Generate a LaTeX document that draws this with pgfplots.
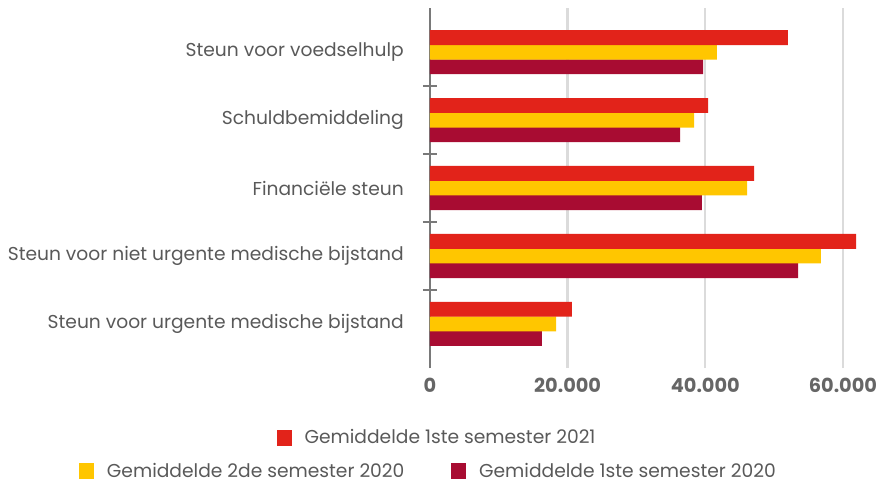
\documentclass[border=0pt]{standalone}
\usepackage{pgfplots}
\pgfplotsset{compat=1.18}
\usepackage{fontspec}
\setmainfont{Poppins}
\definecolor{cRed}{HTML}{E2231A}
\definecolor{cYel}{HTML}{FFC600}
\definecolor{cCri}{HTML}{A80C32}
\definecolor{txt}{HTML}{595959}
\definecolor{tick}{HTML}{666666}
\begin{document}
\begin{tikzpicture}
\useasboundingbox (-322.5pt,-86.25pt) rectangle (339pt,276pt);
\pgfplotsset{
  legsty/.style={
    legend style={draw=none,fill=none,font=\fontsize{14pt}{16pt}\selectfont,text=txt,
      /tikz/every even column/.append style={column sep=33pt}},
    legend image code/.code={\fill[##1,draw=none] (0pt,-6pt) rectangle (11.5pt,6pt); \path[draw=none,fill=none] (0pt,0pt) -- (19pt,0pt);},
  }
}
\begin{axis}[
  at={(0,0)}, anchor=south west,
  scale only axis, width=325.2pt, height=270pt,
  xbar, bar width=0.22,
  xmin=0, xmax=63000, ymin=-0.65, ymax=4.65,
  axis lines*=left,
  x axis line style={draw=none},
  y axis line style={draw=gray!95!black, line width=1.5pt},
  scaled x ticks=false,
  xtick={0,20000,40000,60000},
  xticklabels={0,20.000,40.000,60.000},
  xtick style={draw=none},
  x tick label style={font=\bfseries\fontsize{14.5pt}{16pt}\selectfont, text=tick, yshift=-2pt},
  xmajorgrids, major grid style={draw=black!14, line width=1.8pt},
  ytick={0,1,2,3,4},
  yticklabels={Steun voor urgente medische bijstand,Steun voor niet urgente medische bijstand,Financiële steun,Schuldbemiddeling,Steun voor voedselhulp},
  y tick label style={font=\fontsize{14pt}{16pt}\selectfont, text=txt, xshift=-14pt},
  major y tick style={draw=none},
  minor ytick={0.5,1.5,2.5,3.5},
  minor y tick style={draw=gray!95!black, line width=1.5pt},
  minor tick length=10.5pt,
  tick align=center,
  legsty,
  legend style={at={(0.017,-0.194)}, anchor=center},
]
\addplot[fill=cCri, draw=none, bar shift=-0.215, forget plot] coordinates {(16270,0) (53470,1) (39520,2) (36330,3) (39670,4)};
\addplot[fill=cYel, draw=none, bar shift=0, forget plot] coordinates {(18310,0) (56800,1) (46060,2) (38360,3) (41700,4)};
\addplot[fill=cRed, draw=none, bar shift=0.215] coordinates {(20630,0) (61900,1) (47080,2) (40400,3) (52000,4)};
\addlegendentry{Gemiddelde 1ste semester 2021}
\end{axis}
\begin{axis}[
  at={(0,0)}, anchor=south west,
  scale only axis, width=325.2pt, height=270pt,
  xmin=0, xmax=1, ymin=0, ymax=1, hide axis,
  legsty,
  legend columns=2,
  legend style={at={(-0.003,-0.287)}, anchor=center},
]
\addlegendimage{fill=cYel,draw=none}
\addlegendentry{Gemiddelde 2de semester 2020}
\addlegendimage{fill=cCri,draw=none}
\addlegendentry{Gemiddelde 1ste semester 2020}
\end{axis}
\end{tikzpicture}
\end{document}
